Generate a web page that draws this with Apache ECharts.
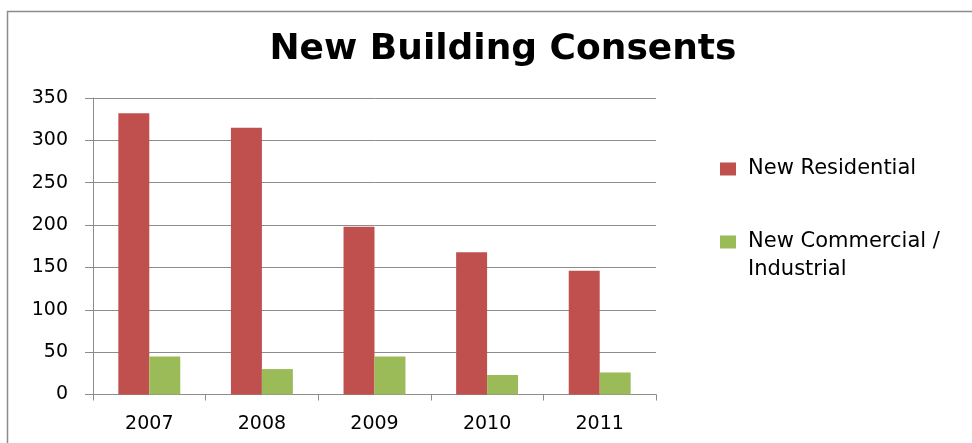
<!DOCTYPE html>
<html>
<head>
<meta charset="utf-8">
<script src="https://cdn.jsdelivr.net/npm/echarts@6/dist/echarts.min.js"></script>
<style>html,body{margin:0;padding:0;background:#fff;}#c{width:972px;height:443px;}</style>
</head>
<body>
<div id="c"></div>
<script>
const categories = ['2007', '2008', '2009', '2010', '2011'];
const residential = [332, 315, 198, 168, 146];
const commercial = [45, 30, 45, 23, 26];
const yTicks = [0, 50, 100, 150, 200, 250, 300, 350];
const seriesNames = ['New Residential', 'New Commercial / Industrial'];

const chart = echarts.init(document.getElementById('c'));
const labelFont = 'DejaVu Sans';
chart.setOption({
  animation: false,
  backgroundColor: '#fff',
  graphic: [{
    type: 'rect', left: 5, top: 9, shape: {width: 1100, height: 600},
    style: {fill: 'none', stroke: '#8c8c8c', lineWidth: 1.5}, silent: true
  }],
  title: {
    text: 'New Building Consents',
    left: 498, top: 27, textAlign: 'center',
    textStyle: {fontFamily: labelFont, fontWeight: 'bold', fontSize: 36, color: '#000'}
  },
  legend: {
    orient: 'vertical', left: 720, top: 155, padding: 0,
    itemWidth: 16, itemHeight: 13, itemGap: 17,
    icon: 'rect',
    data: seriesNames,
    formatter: function (n) { return n === seriesNames[1] ? '\nNew Commercial /\nIndustrial' : n; },
    textStyle: {fontFamily: labelFont, fontSize: 21, color: '#000', lineHeight: 28, padding: [0, 0, 0, 7]}
  },
  grid: {left: 93, right: 316, top: 98, bottom: 48.5, containLabel: false},
  xAxis: {
    type: 'category', data: categories,
    axisLine: {lineStyle: {color: '#8c8c8c', width: 1}},
    axisTick: {show: true, length: 6, inside: false, alignWithLabel: false, lineStyle: {color: '#8c8c8c'}},
    axisLabel: {fontFamily: labelFont, fontSize: 19, color: '#000', margin: 20}
  },
  yAxis: {
    type: 'value', min: 0, max: 350, interval: 50,
    axisLine: {show: true, lineStyle: {color: '#8c8c8c', width: 1}},
    axisTick: {show: true, length: 8, lineStyle: {color: '#8c8c8c'}},
    splitLine: {lineStyle: {color: '#8c8c8c', width: 1}},
    axisLabel: {fontFamily: labelFont, fontSize: 19, color: '#000', margin: 25,
      formatter: function (v) { return yTicks.indexOf(v) >= 0 ? String(v) : ''; }}
  },
  series: [
    {name: seriesNames[0], type: 'bar', data: residential, barGap: '0%', barCategoryGap: '45%',
     itemStyle: {color: '#C0504D'}},
    {name: seriesNames[1], type: 'bar', data: commercial, barGap: '0%', barCategoryGap: '45%',
     itemStyle: {color: '#9BBB59'}}
  ]
});
</script>
</body>
</html>
